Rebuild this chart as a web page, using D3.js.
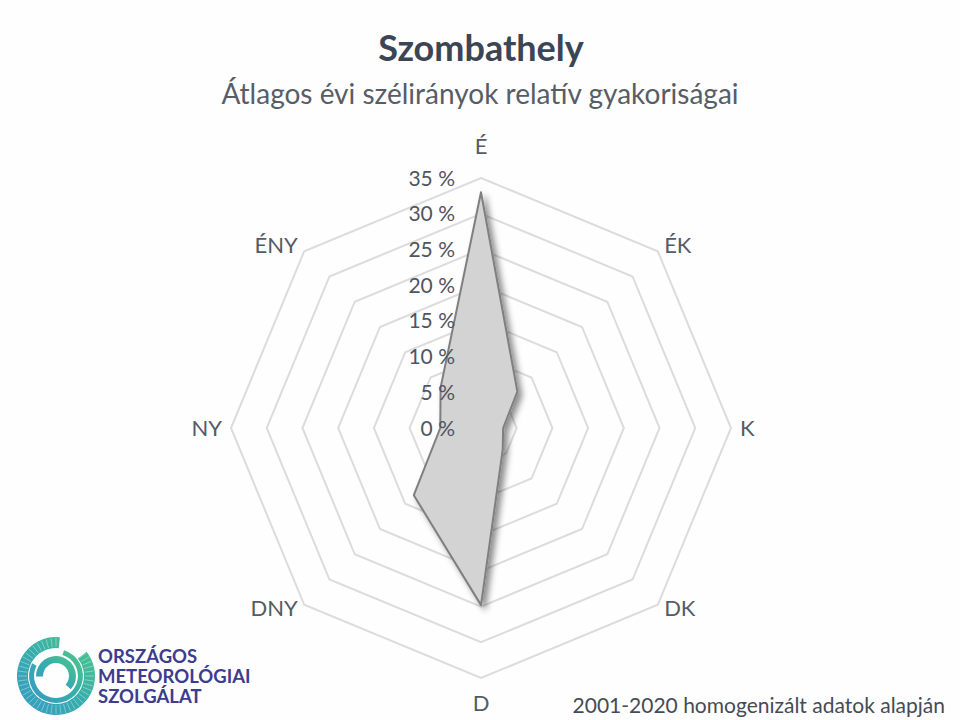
<!DOCTYPE html>
<html>
<head>
<meta charset="utf-8">
<script src="https://cdn.jsdelivr.net/npm/d3@7"></script>
<style>
  html, body { margin: 0; padding: 0; background: #ffffff; }
  svg { display: block; }
</style>
</head>
<body>
<svg id="chart" width="960" height="720"></svg>
<script>
// ---- data ----
const directions = ["É", "ÉK", "K", "DK", "D", "DNY", "NY", "ÉNY"];
const frequencies = [33.0, 7.2, 3.1, 4.3, 24.8, 13.3, 5.7, 8.0]; // %
const tickValues = [0, 5, 10, 15, 20, 25, 30, 35];
const titleText = "Szombathely";
const subtitleText = "Átlagos évi szélirányok relatív gyakoriságai";
const footerText = "2001-2020 homogenizált adatok alapján";
const logoLines = ["ORSZÁGOS", "METEOROLÓGIAI", "SZOLGÁLAT"];

const svg = d3.select("#chart");
const W = 960, H = 720;
const cx = 481, cy = 428, R = 250;
const font = "Lato, 'Open Sans', sans-serif";

const defs = svg.append("defs");
const f = defs.append("filter").attr("id", "shadow")
  .attr("x", "-30%").attr("y", "-30%").attr("width", "160%").attr("height", "160%");
f.append("feDropShadow").attr("dx", 4).attr("dy", 4).attr("stdDeviation", 3)
  .attr("flood-color", "#000").attr("flood-opacity", 0.45);

svg.append("rect").attr("width", W).attr("height", H).attr("fill", "#fefefe");

const r = d3.scaleLinear().domain([0, 35]).range([0, R]);
const angle = d3.scalePoint().domain(directions).range([0, 2 * Math.PI * (directions.length - 1) / directions.length]);

const pt = (dir, v) => {
  const a = angle(dir);
  return [cx + r(v) * Math.sin(a), cy - r(v) * Math.cos(a)];
};

// grid rings
const g = svg.append("g");
tickValues.filter(t => t > 0).forEach(t => {
  g.append("path")
    .attr("d", d3.line()(directions.map(d => pt(d, t))) + "Z")
    .attr("fill", "none")
    .attr("stroke", "#dcdcdc")
    .attr("stroke-width", 2);
});

// data polygon
const line = d3.lineRadial()
  .angle((d, i) => angle(directions[i]))
  .radius(d => r(d))
  .curve(d3.curveLinearClosed);
svg.append("path")
  .attr("transform", `translate(${cx},${cy})`)
  .attr("d", line(frequencies))
  .attr("fill", "#d3d3d3")
  .attr("stroke", "#7f7f7f")
  .attr("stroke-width", 2)
  .attr("stroke-linejoin", "round")
  .attr("filter", "url(#shadow)");

// value axis labels
svg.append("g").selectAll("text").data(tickValues).join("text")
  .attr("x", 455)
  .attr("y", d => cy - r(d))
  .attr("dy", "0.36em")
  .attr("text-anchor", "end")
  .attr("font-family", font)
  .attr("font-size", 21)
  .attr("fill", "#4f5561")
  .text(d => d + " %");

// category labels
svg.append("g").selectAll("text").data(directions).join("text")
  .each(function(d) {
    const a = angle(d);
    const s = Math.sin(a), c = Math.cos(a);
    const [vx, vy] = pt(d, 35);
    const diag = Math.abs(s) > 0.01 && Math.abs(c) > 0.01;
    const anchor = Math.abs(s) < 0.01 ? "middle" : (s > 0 ? "start" : "end");
    const x = vx + s * 9;
    let y;
    if (diag) y = vy + (c > 0 ? -6 : 3);
    else y = vy - c * (c > 0 ? 32 : 25);
    d3.select(this).attr("x", x).attr("y", y).attr("text-anchor", anchor);
  })
  .attr("dy", "0.36em")
  .attr("font-family", font)
  .attr("font-size", 22)
  .attr("fill", "#555b66")
  .text(d => d);

// titles
svg.append("text").attr("x", 481).attr("y", 61).attr("text-anchor", "middle")
  .attr("font-family", font).attr("font-weight", "bold").attr("font-size", 36)
  .attr("fill", "#3b4554").text(titleText);
svg.append("text").attr("x", 480).attr("y", 104).attr("text-anchor", "middle")
  .attr("font-family", font).attr("font-size", 28)
  .attr("fill", "#575d66").text(subtitleText);

// footer
svg.append("text").attr("x", 945).attr("y", 713).attr("text-anchor", "end")
  .attr("font-family", font).attr("font-size", 21)
  .attr("fill", "#454b55").text(footerText);

// logo
const lg = defs.append("linearGradient").attr("id", "logoGrad")
  .attr("x1", "0%").attr("y1", "100%").attr("x2", "100%").attr("y2", "0%");
lg.append("stop").attr("offset", "0%").attr("stop-color", "#1f8fc0");
lg.append("stop").attr("offset", "55%").attr("stop-color", "#22a6a0");
lg.append("stop").attr("offset", "100%").attr("stop-color", "#3cc27a");
const logo = svg.append("g").attr("transform", "translate(56,676)");
const arcs = [
  {ri: 28, ro: 39, s: 0.9, e: 2 * Math.PI + 0.1},
  {ri: 22, ro: 27, s: 0.3, e: 5.2},
  {ri: 13, ro: 20, s: -1.6, e: 2.3}
];
arcs.forEach(a => {
  logo.append("path")
    .attr("d", d3.arc().innerRadius(a.ri).outerRadius(a.ro).startAngle(a.s).endAngle(a.e)())
    .attr("fill", "url(#logoGrad)").attr("opacity", 0.9);
});
logo.selectAll("line.hatch").data(d3.range(0, 48)).join("line")
  .attr("x1", d => 29 * Math.sin(d / 48 * 2 * Math.PI))
  .attr("y1", d => -29 * Math.cos(d / 48 * 2 * Math.PI))
  .attr("x2", d => 38 * Math.sin(d / 48 * 2 * Math.PI))
  .attr("y2", d => -38 * Math.cos(d / 48 * 2 * Math.PI))
  .attr("stroke", "#ffffff").attr("stroke-width", 0.8).attr("opacity", 0.45);

svg.append("g").selectAll("text").data(logoLines).join("text")
  .attr("x", 98).attr("y", (d, i) => 663 + i * 20)
  .attr("font-family", font).attr("font-weight", "bold").attr("font-size", 18.5)
  .attr("fill", "#3d3c8f").text(d => d);
</script>
</body>
</html>
